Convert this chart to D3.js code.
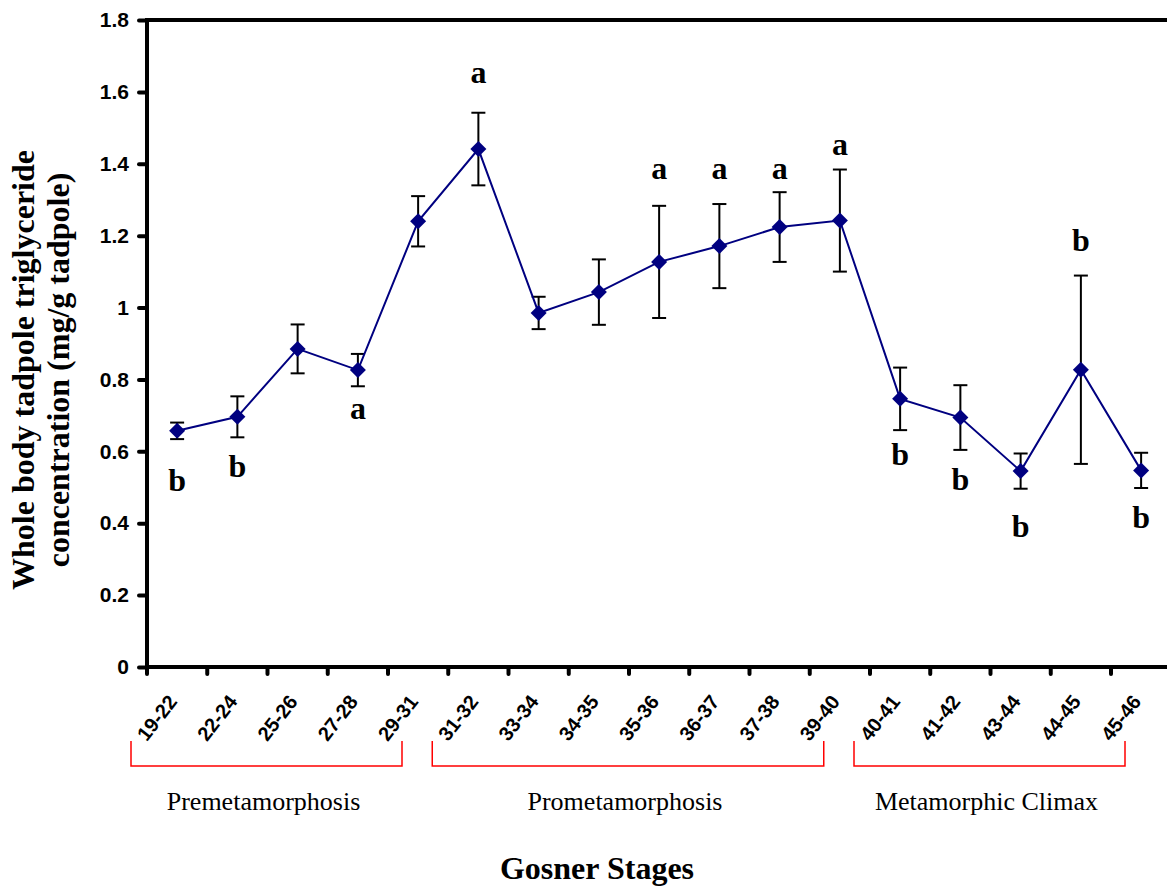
<!DOCTYPE html>
<html><head><meta charset="utf-8">
<script src="https://cdn.jsdelivr.net/npm/d3@7"></script>
<style>body{margin:0;background:#fff}svg{display:block}</style>
</head><body><div id="chart"></div>
<script>
const stages = ["19-22","22-24","25-26","27-28","29-31","31-32","33-34","34-35","35-36","36-37","37-38","39-40","40-41","41-42","43-44","44-45","45-46"];
const means  = [0.657,0.696,0.885,0.826,1.240,1.441,0.985,1.043,1.127,1.171,1.224,1.242,0.746,0.694,0.545,0.827,0.547];
const errors = [0.023,0.057,0.068,0.045,0.070,0.101,0.045,0.091,0.156,0.117,0.097,0.142,0.087,0.090,0.049,0.262,0.049];
const letters = ["b","b","","a","","a","","","a","a","a","a","b","b","b","b","b"];
const letterY = [0.52,0.559,null,0.72,null,1.653,null,null,1.386,1.386,1.386,1.455,0.59,0.523,0.392,1.188,0.415];
const yTicks = [0,0.2,0.4,0.6,0.8,1,1.2,1.4,1.6,1.8];
const groupNames = ["Premetamorphosis","Prometamorphosis","Metamorphic Climax"];
const groupFirst = ["19-22","31-32","40-41"];
const groupLast  = ["29-31","39-40","45-46"];

(function(){
const W = 1167, H = 886;
const pL = 147, pT = 20, pB = 667, pR = 147 + 17*60.25;
const svg = d3.select("#chart").append("svg").attr("width", W).attr("height", H);

const x = d3.scaleBand().domain(stages).range([pL, pR]).paddingInner(0).paddingOuter(0);
const y = d3.scaleLinear().domain([0, 1.8]).range([pB, pT]);
const bw = x.bandwidth();
const cx = d => x(d) + bw/2;
const sans = "Liberation Sans, Arial, sans-serif";
const serif = "Liberation Serif, Times New Roman, serif";

// y axis
const yAxis = svg.append("g").attr("transform", `translate(${pL},0)`)
  .call(d3.axisLeft(y).tickValues(yTicks).tickSize(6).tickPadding(12).tickFormat(d => String(d)));
yAxis.select(".domain").remove();
yAxis.selectAll(".tick line").attr("stroke","#000").attr("stroke-width",4).attr("stroke-linecap","round").attr("x2",-8);
yAxis.selectAll(".tick text").attr("font-family",sans).attr("font-weight","bold").attr("font-size",21).attr("fill","#000");

// x axis labels
const xAxis = svg.append("g").attr("transform", `translate(0,${pB})`)
  .call(d3.axisBottom(x).tickSize(0).tickFormat(d => d));
xAxis.select(".domain").remove();
xAxis.selectAll(".tick text")
  .attr("font-family",sans).attr("font-weight","bold").attr("font-size",20).attr("fill","#000")
  .attr("text-anchor","end").attr("y",0).attr("dy",0)
  .attr("transform", "translate(1,35) rotate(-52)");
// boundary ticks
svg.append("g").selectAll("line").data(stages).join("line")
  .attr("x1", d => x(d)).attr("x2", d => x(d)).attr("y1", pB).attr("y2", pB+7)
  .attr("stroke","#000").attr("stroke-width",4).attr("stroke-linecap","round");

// frame lines
svg.append("line").attr("x1",pL).attr("x2",pR).attr("y1",pB).attr("y2",pB).attr("stroke","#000").attr("stroke-width",4);
svg.append("line").attr("x1",pL).attr("x2",pR).attr("y1",pT).attr("y2",pT).attr("stroke","#000").attr("stroke-width",4);
svg.append("line").attr("x1",pL).attr("x2",pL).attr("y1",pT-2).attr("y2",pB+2).attr("stroke","#000").attr("stroke-width",4);

// error bars
const eb = svg.append("g").attr("stroke","#000").attr("stroke-width",2);
stages.forEach((s,i) => {
  const hi = y(means[i]+errors[i]), lo = y(means[i]-errors[i]), c = cx(s);
  eb.append("line").attr("x1",c).attr("x2",c).attr("y1",hi).attr("y2",lo);
  eb.append("line").attr("x1",c-7).attr("x2",c+7).attr("y1",hi).attr("y2",hi);
  eb.append("line").attr("x1",c-7).attr("x2",c+7).attr("y1",lo).attr("y2",lo);
});

// line
svg.append("path").datum(stages.map((s,i)=>[cx(s), y(means[i])]))
  .attr("d", d3.line()).attr("fill","none").attr("stroke","#000080").attr("stroke-width",2);

// markers
svg.append("g").selectAll("path").data(stages).join("path")
  .attr("transform",(d,i)=>`translate(${cx(d)},${y(means[i])})`)
  .attr("d","M0,-8L8,0L0,8L-8,0Z").attr("fill","#000080");

// letters
svg.append("g").selectAll("text").data(stages.filter((s,i)=>letters[i])).join("text")
  .attr("x", d => cx(d))
  .attr("y", d => y(letterY[stages.indexOf(d)]))
  .attr("dy","0.33em")
  .attr("text-anchor","middle")
  .attr("font-family",serif).attr("font-weight","bold").attr("font-size",32)
  .text(d => letters[stages.indexOf(d)]);

// group brackets
const bracketTop = 741, bracketBot = 766;
groupNames.forEach((g,i) => {
  const l = x(groupFirst[i]) - 16, r = x(groupLast[i]) + 14;
  svg.append("path").attr("d", `M${l},${bracketTop}V${bracketBot}H${r}V${bracketTop}`)
    .attr("fill","none").attr("stroke","#ff0000").attr("stroke-width",1.5);
  svg.append("text").attr("x",(l+r)/2 - 3).attr("y",810).attr("text-anchor","middle")
    .attr("font-family",serif).attr("font-size",26).text(g);
});

// axis titles
const yt = svg.append("text").attr("transform",`translate(34,370) rotate(-90)`)
  .attr("text-anchor","middle").attr("font-family",serif)
  .attr("font-weight","bold").attr("font-size",32);
yt.append("tspan").attr("x",0).attr("dy",0).text("Whole body tadpole triglyceride");
yt.append("tspan").attr("x",0).attr("dy",35).text("concentration (mg/g tadpole)");

svg.append("text").attr("x",597).attr("y",879).attr("text-anchor","middle")
  .attr("font-family",serif).attr("font-weight","bold").attr("font-size",32)
  .text("Gosner Stages");
})();
</script></body></html>
